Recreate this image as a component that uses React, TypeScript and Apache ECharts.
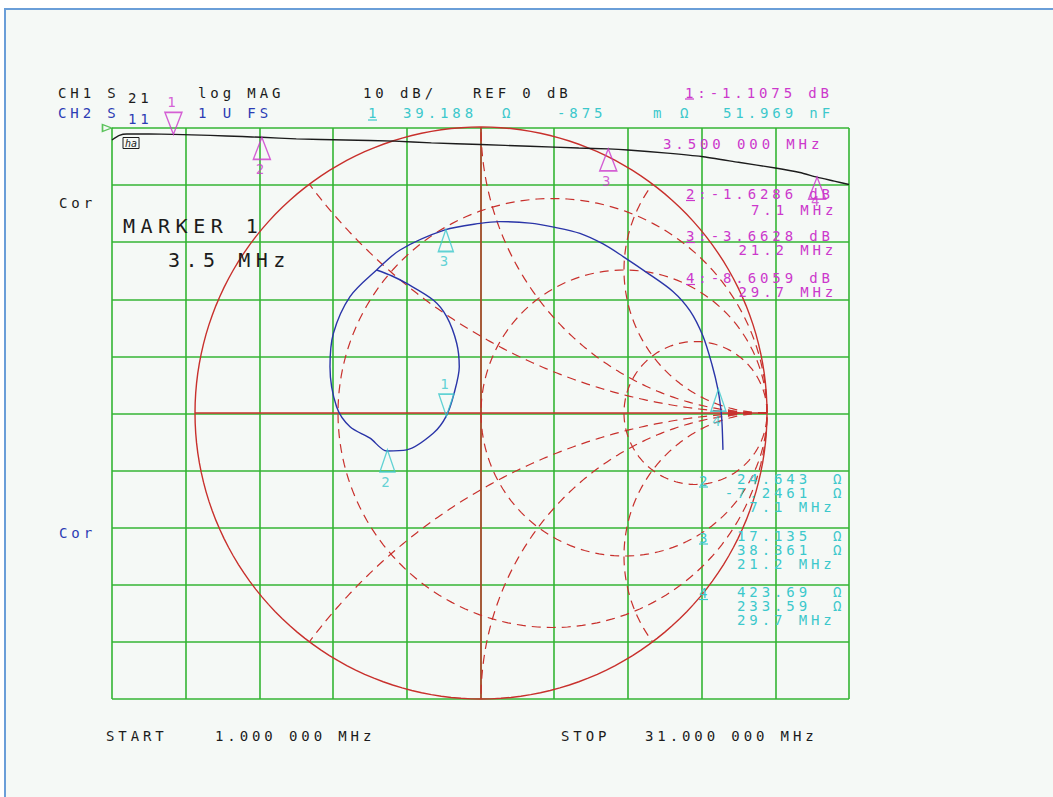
import React, { useEffect, useRef } from "react";
import * as echarts from "echarts";

// ---- Sweep / scale settings ----
const freqStart = 1; // MHz
const freqStop = 31; // MHz
const refLevel = 0; // dB
const dbPerDiv = 10;
const divisions = 10;

// ---- CH1: S21 log magnitude (dB) vs frequency (MHz) ----
const s21Freq = [1.0, 1.3, 1.6, 2.5, 3.5, 5.0, 6.3, 7.1, 8.5, 10.5, 12.5, 14.0, 16.0, 18.0, 20.0, 21.2, 22.0, 23.6, 25.0, 26.5, 28.0, 29.0, 29.7, 30.4, 31.0];
const s21Db = [-2.1, -1.3, -1.05, -1.05, -1.11, -1.3, -1.5, -1.63, -1.9, -2.1, -2.3, -2.6, -2.9, -3.2, -3.5, -3.66, -3.85, -4.4, -5.0, -6.0, -7.0, -7.8, -8.61, -9.3, -9.9];

// ---- CH2: S11 reflection coefficient (Smith chart), 1 MHz -> 31 MHz ----
const s11Re = [-0.365, -0.311, -0.26, -0.167, -0.12, -0.085, -0.076, -0.094, -0.121, -0.167, -0.26, -0.329, -0.388, -0.458, -0.505, -0.528, -0.516, -0.458, -0.365, -0.283, -0.126, -0.003, 0.066, 0.171, 0.259, 0.346, 0.427, 0.497, 0.58, 0.671, 0.731, 0.776, 0.808, 0.829, 0.839, 0.843, 0.846];
const s11Im = [0.5, 0.479, 0.453, 0.395, 0.337, 0.244, 0.162, 0.069, -0.01, -0.071, -0.129, -0.133, -0.088, -0.048, 0.022, 0.162, 0.279, 0.407, 0.5, 0.57, 0.64, 0.663, 0.669, 0.664, 0.649, 0.628, 0.591, 0.547, 0.491, 0.425, 0.357, 0.269, 0.168, 0.08, 0.01, -0.042, -0.129];

// ---- Markers ----
const markerIds = ["1", "2", "3", "4"];
const markerFreq = [3.5, 7.1, 21.2, 29.7]; // MHz
const markerDb = [-1.1075, -1.6286, -3.6628, -8.6059]; // S21
const markerR = [39.188, 24.643, 17.135, 423.69]; // S11 ohms
const markerX = [-0.875, -7.2461, 38.361, 233.59]; // S11 ohms
const z0 = 50;
const marker1Cap = "51.969 nF";

// ---- Smith graticule ----
const smithR = [1 / 3, 1, 3];
const smithX = [0.5, 1, 2, -0.5, -1, -2];

// ---- Colours ----
const GREEN = "#34b534";
const RED = "#c8302c";
const BLUE_TR = "#2a35a8";
const BLUE_TX = "#2c3cb4";
const MAG = "#cc38cc";
const CYAN = "#3cc8cc";
const BLACK = "#1c1c1c";
const FONT = '"DejaVu Sans Mono", monospace';

const gammaOf = (r: number, x: number) => {
  const a = r / z0, b = x / z0;
  const nr = a - 1, ni = b, dr = a + 1, di = b;
  const d = dr * dr + di * di;
  return [(nr * dr + ni * di) / d, (ni * dr - nr * di) / d];
};

const txt = (text: string, x: number, y: number, fill: string, size = 14, extra: any = {}) => ({
  type: "text",
  x,
  y,
  z: 50,
  silent: true,
  style: {
    text,
    fill,
    font: `${size}px ${FONT}`,
    align: "left",
    verticalAlign: "middle",
    textAlign: "left",
    textVerticalAlign: "middle",
    ...extra,
  },
});
const uline = (x1: number, x2: number, y: number, color: string) => ({
  type: "line",
  z: 50,
  silent: true,
  shape: { x1, y1: y, x2, y2: y },
  style: { stroke: color, lineWidth: 1.2 },
});

const fmt5 = (v: number) => v.toPrecision(5);

function buildOption() {
  const graphics: any[] = [
    {
      type: "rect",
      z: -10,
      silent: true,
      shape: { x: 5, y: 9, width: 1100, height: 850 },
      style: { fill: "#f5f9f6", stroke: "#6a9ed8", lineWidth: 2 },
    },
    // header row 1
    txt("CH1 S", 58, 92.5, BLACK),
    txt("21", 128, 97.5, BLACK),
    txt("log MAG", 198, 92.5, BLACK),
    txt(`${dbPerDiv} dB/`, 363, 92.5, BLACK),
    txt(`REF ${refLevel} dB`, 473, 92.5, BLACK),
    txt(`${markerIds[0]}:${markerDb[0].toFixed(4)} dB`, 685, 92.5, MAG),
    uline(685, 694, 99, MAG),
    // header row 2
    txt("CH2 S", 58, 113, BLUE_TX),
    txt("11", 128, 118.5, BLUE_TX),
    txt("1 U FS", 198, 113, BLUE_TX),
    txt(markerIds[0], 368, 113, CYAN),
    uline(368, 377, 120, CYAN),
    txt(fmt5(markerR[0]), 403, 113, CYAN),
    txt("Ω", 502, 113, CYAN),
    txt(String(Math.round(markerX[0] * 1000)), 557, 113, CYAN),
    txt("m", 653, 113, CYAN),
    txt("Ω", 680, 113, CYAN),
    txt(marker1Cap, 723, 113, CYAN),
    // marker 1 freq
    txt("3.500 000 MHz", 663, 144, MAG),
    // left labels
    txt("Cor", 59, 203, BLACK),
    txt("Cor", 59, 533, BLUE_TX),
    txt("MARKER 1", 123, 226, BLACK, 20),
    txt(`${markerFreq[0]} MHz`, 168, 260, BLACK, 20),
    // bottom
    txt("START", 106, 736, BLACK),
    txt(`${freqStart.toFixed(3)} 000 MHz`, 215, 736, BLACK),
    txt("STOP", 561, 736, BLACK),
    txt(`${freqStop.toFixed(3)} 000 MHz`, 645, 736, BLACK),
    // small boxed annotation
    {
      type: "text",
      x: 123,
      y: 143,
      z: 50,
      silent: true,
      style: {
        text: "ha",
        fill: BLACK,
        font: `italic 10px ${FONT}`,
        align: "left",
        verticalAlign: "middle",
        textAlign: "left",
        textVerticalAlign: "middle",
        borderColor: BLACK,
        borderWidth: 1,
        padding: [1, 2, 0, 2],
      },
    },
  ];

  // right column: S21 markers 2..4
  const dbRowY = [194, 236, 278];
  const fRowY = [210, 250, 292];
  const fRowX = [751, 738.5, 738.5];
  for (let i = 1; i < 4; i++) {
    graphics.push(txt(`${markerIds[i]}:${markerDb[i].toFixed(4)} dB`, 686, dbRowY[i - 1], MAG));
    graphics.push(uline(686, 695, dbRowY[i - 1] + 6.5, MAG));
    graphics.push(txt(`${markerFreq[i]} MHz`, fRowX[i - 1], fRowY[i - 1], MAG));
  }
  // right column: S11 markers 2..4 impedance
  const zRowY = [479, 536, 591.5];
  for (let i = 1; i < 4; i++) {
    const y0 = zRowY[i - 1];
    graphics.push(txt(markerIds[i], 699, y0 + 1.5, CYAN));
    graphics.push(uline(699, 708, y0 + 8, CYAN));
    const rs = fmt5(markerR[i]);
    const xs = fmt5(markerX[i]);
    graphics.push(txt(rs, 737 - (rs.length - 6) * 12.33, y0, CYAN));
    graphics.push(txt("Ω", 833, y0, CYAN));
    graphics.push(txt(xs, 737 - (xs.length - 6) * 12.33, y0 + 14, CYAN));
    graphics.push(txt("Ω", 833, y0 + 14, CYAN));
    const fs = `${markerFreq[i]} MHz`;
    graphics.push(txt(fs, 737 + (8 - fs.length) * 12.33, y0 + 28, CYAN));
  }

  const graticule: number[][] = [
    [2, 0],
    [3, 0],
    [0, 0],
    ...smithR.map((r) => [0, r]),
    ...smithX.map((x) => [1, x]),
  ];

  const s11Gamma = markerR.map((r, i) => gammaOf(r, markerX[i]));

  const triStyle = (color: string) => ({ color: "rgba(0,0,0,0)", borderColor: color, borderWidth: 1.5 });

  return {
    animation: false,
    backgroundColor: "#ffffff",
    grid: [
      { left: 112, top: 128, width: 737, height: 571 },
      { left: 195, top: 127, width: 572, height: 572 },
    ],
    xAxis: [
      { gridIndex: 0, type: "value", min: freqStart, max: freqStop, show: false },
      {
        gridIndex: 0,
        type: "value",
        min: 0,
        max: divisions,
        interval: 1,
        axisLine: { show: false },
        axisTick: { show: false },
        axisLabel: { show: false },
        splitLine: { show: true, lineStyle: { color: GREEN, width: 1.6 } },
      },
      { gridIndex: 1, type: "value", min: -1, max: 1, show: false },
    ],
    yAxis: [
      {
        gridIndex: 0,
        type: "value",
        min: refLevel - dbPerDiv * divisions,
        max: refLevel,
        interval: dbPerDiv,
        axisLine: { show: false },
        axisTick: { show: false },
        axisLabel: { show: false },
        splitLine: { show: true, lineStyle: { color: GREEN, width: 1.6 } },
      },
      { gridIndex: 1, type: "value", min: -1, max: 1, show: false },
    ],
    graphic: { elements: graphics },
    series: [
      {
        type: "custom",
        xAxisIndex: 2,
        yAxisIndex: 1,
        z: 3,
        silent: true,
        data: graticule,
        renderItem: (params: any, api: any) => {
          const kind = api.value(0);
          const v = api.value(1);
          const pts: number[][] = [];
          const N = 180;
          if (kind === 0) {
            const c = v / (1 + v), rad = 1 / (1 + v);
            for (let i = 0; i <= N; i++) {
              const t = (i / N) * Math.PI * 2;
              pts.push(api.coord([c + rad * Math.cos(t), rad * Math.sin(t)]));
            }
          } else if (kind === 1) {
            const R = 1 / Math.abs(v);
            const s = Math.sign(v);
            const a0 = (-s * Math.PI) / 2;
            const sweep = 2 * Math.atan(Math.abs(v));
            for (let i = 0; i <= N; i++) {
              const a = a0 - s * sweep * (i / N);
              pts.push(api.coord([1 + R * Math.cos(a), 1 / v + R * Math.sin(a)]));
            }
          } else if (kind === 2) {
            pts.push(api.coord([-1, 0]), api.coord([1, 0]));
          } else {
            pts.push(api.coord([0, -1]), api.coord([0, 1]));
          }
          const solid = kind >= 2 || (kind === 0 && v === 0);
          return {
            type: "polyline",
            shape: { points: pts },
            style: {
              stroke: RED,
              fill: "none",
              lineWidth: solid ? 1.4 : 1.2,
              lineDash: solid ? null : [9, 6],
            },
          };
        },
      },
      {
        type: "scatter",
        xAxisIndex: 2,
        yAxisIndex: 1,
        z: 4,
        clip: false,
        silent: true,
        symbol: "triangle",
        symbolSize: [8, 14],
        symbolRotate: -90,
        itemStyle: { color: RED },
        data: [[0.888, 0]],
      },
      {
        type: "line",
        xAxisIndex: 2,
        yAxisIndex: 1,
        z: 5,
        silent: true,
        symbol: "none",
        smooth: 0.3,
        lineStyle: { color: BLUE_TR, width: 1.4 },
        data: s11Re.map((re, i) => [re, s11Im[i]]),
      },
      {
        type: "line",
        xAxisIndex: 0,
        yAxisIndex: 0,
        z: 5,
        silent: true,
        symbol: "none",
        smooth: 0.2,
        lineStyle: { color: BLACK, width: 1.4 },
        data: s21Freq.map((f, i) => [f, s21Db[i]]),
      },
      {
        type: "scatter",
        xAxisIndex: 0,
        yAxisIndex: 0,
        z: 6,
        clip: false,
        silent: true,
        symbol: "triangle",
        symbolSize: [17, 22],
        itemStyle: triStyle(MAG),
        label: { show: true, formatter: "{b}", color: MAG, fontSize: 14, fontFamily: FONT, distance: 2 },
        data: markerFreq.map((f, i) => ({
          name: markerIds[i],
          value: [f, markerDb[i]],
          symbolRotate: i === 0 ? 180 : 0,
          symbolOffset: [0, i === 0 ? -11 : 11],
          label: { position: i === 0 ? "top" : "bottom", distance: i === 3 ? -6 : 2 },
        })),
      },
      {
        type: "scatter",
        xAxisIndex: 2,
        yAxisIndex: 1,
        z: 6,
        clip: false,
        silent: true,
        symbol: "triangle",
        symbolSize: [15, 22],
        itemStyle: triStyle(CYAN),
        label: { show: true, formatter: "{b}", color: CYAN, fontSize: 14, fontFamily: FONT, distance: 2 },
        data: s11Gamma.map((g, i) => ({
          name: markerIds[i],
          value: g,
          symbolRotate: i === 0 ? 180 : 0,
          symbolOffset: [0, i === 0 ? -11 : 11],
          label: { position: i === 0 ? "top" : "bottom" },
        })),
      },
      {
        type: "scatter",
        xAxisIndex: 0,
        yAxisIndex: 0,
        z: 6,
        clip: false,
        silent: true,
        symbol: "triangle",
        symbolSize: [7, 9],
        symbolRotate: -90,
        symbolOffset: [-5, 0],
        itemStyle: triStyle(GREEN),
        data: [[freqStart, refLevel]],
      },
    ],
  };
}

export default function App() {
  const ref = useRef<HTMLDivElement>(null);
  useEffect(() => {
    if (!ref.current) return;
    const chart = echarts.init(ref.current, null, { renderer: "svg" });
    chart.setOption(buildOption() as any);
    return () => chart.dispose();
  }, []);
  return (
    <>
      <style>{`.hp text[style*="14px"]{letter-spacing:3.9px}.hp text[style*="20px"]{letter-spacing:5.5px}`}</style>
      <div
        ref={ref}
        className="hp"
        style={{ position: "fixed", left: 0, top: 0, width: 1053, height: 797 }}
      />
    </>
  );
}
